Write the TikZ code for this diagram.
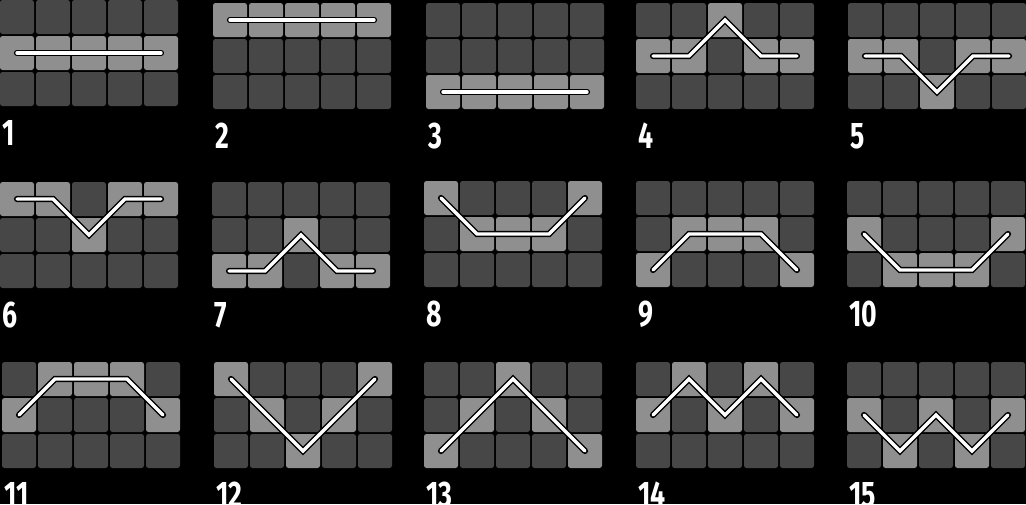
\documentclass[tikz,border=0pt]{standalone}
\usepackage{fontspec}
\newfontfamily\labelfont{Fira Sans}[FakeStretch=0.72]
\definecolor{cellbg}{HTML}{474747}
\definecolor{cellhi}{HTML}{8F8F8F}

\begin{document}
\begin{tikzpicture}[
    x=1pt, y=-1pt,
    cell/.style={fill=#1, rounded corners=2.5pt, minimum size=34pt, inner sep=0pt},
    payline/.style={draw=black, line width=1.4pt, double=white, double distance=3.4pt, line cap=round},
    numlabel/.style={text=white, font=\labelfont\bfseries\fontsize{37}{37}\selectfont, anchor=base west, inner sep=0pt}
]
    % black page
    \fill[black] (0,0) rectangle (1026,504);
    \useasboundingbox (0,0) rectangle (1026,504);

    % number / origin / rows of the five columns
    \foreach \n/\ox/\oy/\pat in {
        1/0/0/{1,1,1,1,1}, 2/213/3/{0,0,0,0,0}, 3/426/3/{2,2,2,2,2},
        4/636/3/{1,1,0,1,1}, 5/848/3/{1,1,2,1,1},
        6/0/182/{0,0,1,0,0}, 7/212/182/{2,2,1,2,2}, 8/424/181/{0,1,1,1,0},
        9/636/181/{2,1,1,1,2}, 10/847/181/{1,2,2,2,1},
        11/2/362/{1,0,0,0,1}, 12/214/362/{0,1,2,1,0}, 13/424/362/{2,1,0,1,2},
        14/636/362/{1,0,1,0,1}, 15/847/362/{1,2,1,2,1}} {

        % grid of cells
        \foreach \h [count=\c from 0] in \pat {
            \foreach \r in {0,1,2} {
                \ifnum\r=\h \def\cc{cellhi}\else\def\cc{cellbg}\fi
                \node[cell=\cc] (g\n-\c-\r) at (\ox+17+36*\c, \oy+17+36*\r) {};
            }
        }

        % route through the lit cells
        \foreach \h [count=\c from 0] in \pat {
            \ifnum\c=0 \xdef\route{(g\n-\c-\h.center)}\else\xdef\route{\route -- (g\n-\c-\h.center)}\fi
        }
        \draw[payline] \route;

        \node[numlabel] (lab\n) at (\ox+2, \oy+145) {\n};
    }
\end{tikzpicture}
\end{document}
